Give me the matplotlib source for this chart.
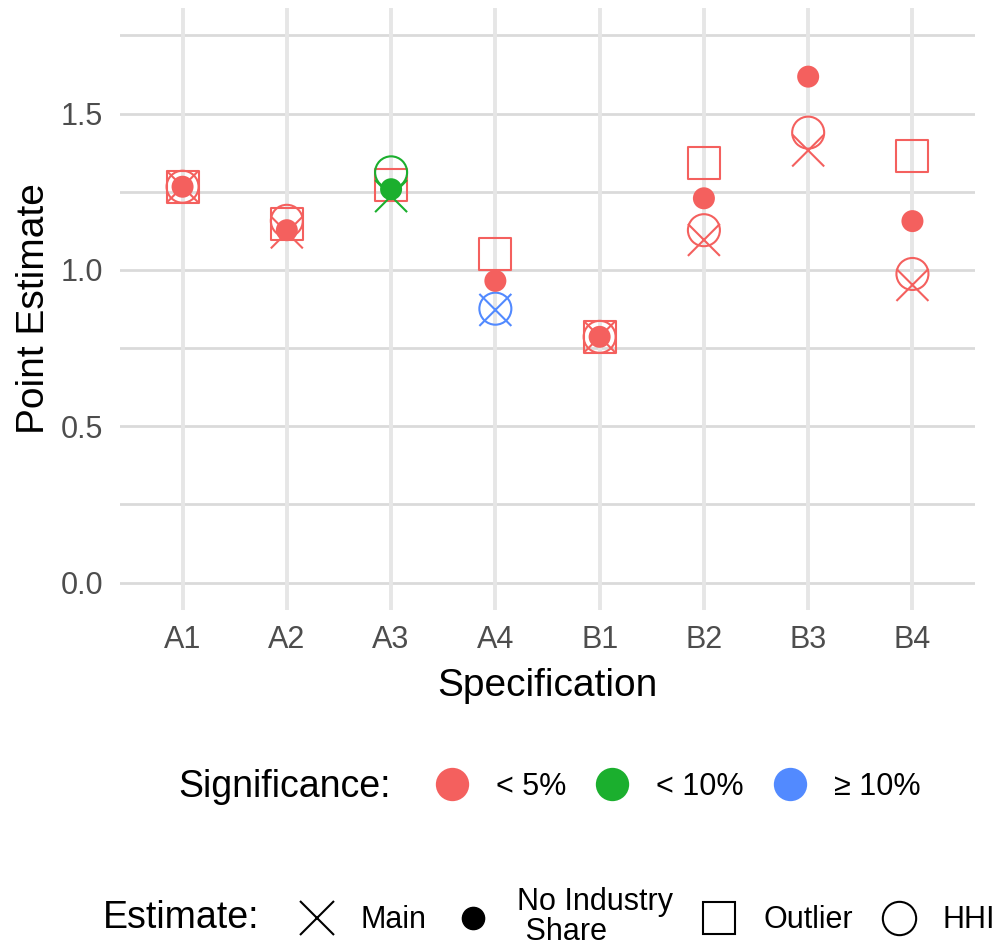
import numpy as np
import matplotlib
matplotlib.use("Agg")
import matplotlib.pyplot as plt
from matplotlib.lines import Line2D

plt.rcParams['font.family'] = ['Liberation Sans', 'DejaVu Sans']

# specifications on the x axis
specs = ['A1', 'A2', 'A3', 'A4', 'B1', 'B2', 'B3', 'B4']

# point estimates per model variant (nan = not estimated)
main_est = [1.266, 1.120, 1.236, 0.872, 0.786, 1.096, 1.382, 0.952]
noind_est = [1.266, 1.127, 1.258, 0.965, 0.786, 1.229, 1.618, 1.156]
outlier_est = [1.266, 1.146, 1.271, 1.051, 0.786, 1.342, np.nan, 1.363]
hhi_est = [1.266, 1.157, 1.312, 0.876, 0.786, 1.127, 1.439, 0.987]

# significance level of each estimate
main_sig = ['5', '5', '10', 'ns', '5', '5', '5', '5']
noind_sig = ['5', '5', '10', '5', '5', '5', '5', '5']
outlier_sig = ['5', '5', '5', '5', '5', '5', '5', '5']
hhi_sig = ['5', '5', '10', 'ns', '5', '5', '5', '5']

sig_levels = ['5', '10', 'ns']
sig_labels = ['< 5%', '< 10%', '≥ 10%']
sig_colors = {'5': '#F4605E', '10': '#1BAF2E', 'ns': '#528AFF'}

est_labels = ['Main', 'No Industry\n Share', 'Outlier', 'HHI']

W, H = 997, 949
fig = plt.figure(figsize=(W / 100, H / 100), dpi=100)
ax = fig.add_axes([120 / W, 1 - 610 / H, 855 / W, 602 / H])

x = np.arange(len(specs))

# grid in the style of a minimal theme
for yv in np.arange(0, 1.76, 0.25):
    ax.axhline(yv, color='#DADADA', lw=2.0, zorder=0)
for xv in x:
    ax.axvline(xv, color='#E6E6E6', lw=2.8, zorder=0)

ms_open = 32 * 0.72
ms_fill = 22 * 0.72
lw = 1.5

def cols(sig):
    return [sig_colors[s] for s in sig]

ax.scatter(x, outlier_est, s=ms_open ** 2, marker='s', facecolors='none',
           edgecolors=cols(outlier_sig), linewidths=lw, zorder=2)
ax.scatter(x, hhi_est, s=ms_open ** 2, marker='o', facecolors='none',
           edgecolors=cols(hhi_sig), linewidths=lw, zorder=3)
ax.scatter(x, main_est, s=ms_open ** 2, marker='x', c=cols(main_sig),
           linewidths=lw, zorder=4)
ax.scatter(x, noind_est, s=ms_fill ** 2, marker='o', c=cols(noind_sig),
           edgecolors='none', zorder=5)

ax.set_xlim(-0.6, len(specs) - 0.4)
ax.set_ylim(-0.0875, 1.8375)
ax.set_xticks(x)
ax.set_xticklabels(specs)
ax.set_yticks([0, 0.5, 1.0, 1.5])
ax.set_yticklabels(['0.0', '0.5', '1.0', '1.5'])
ax.tick_params(length=0, labelsize=22, labelcolor='#4D4D4D')
ax.tick_params(axis='y', pad=12)
ax.tick_params(axis='x', pad=11)
for sp in ax.spines.values():
    sp.set_visible(False)
ax.set_xlabel('Specification', fontsize=28, labelpad=9)
ax.set_ylabel('Point Estimate', fontsize=28, labelpad=6)

# significance legend
fig.text(178 / W, 1 - 787 / H, 'Significance:', fontsize=27, va='center', ha='left')
sig_handles = [Line2D([], [], ls='', marker='o', ms=24, mec='none',
                      mfc=sig_colors[s]) for s in sig_levels]
fig.legend(sig_handles, sig_labels, ncol=3, frameon=False, fontsize=22,
           loc='center left', bbox_to_anchor=(421 / W, 1 - 787 / H),
           borderpad=0, handlelength=1.0, handletextpad=0.95,
           columnspacing=1.0)

# estimate legend
fig.text(103 / W, 1 - 918 / H, 'Estimate:', fontsize=27, va='center', ha='left')
est_handles = [
    Line2D([], [], ls='', marker='x', ms=24, mew=lw, color='black'),
    Line2D([], [], ls='', marker='o', ms=16, color='black'),
    Line2D([], [], ls='', marker='s', ms=23, mew=lw, mfc='none', mec='black'),
    Line2D([], [], ls='', marker='o', ms=24, mew=lw, mfc='none', mec='black'),
]
leg = fig.legend(est_handles, est_labels, ncol=4, frameon=False, fontsize=22,
                 loc='center left', bbox_to_anchor=(286 / W, 1 - 917 / H),
                 borderpad=0, handlelength=1.0, handletextpad=0.95,
                 columnspacing=1.0)
for t in leg.get_texts():
    t.set_linespacing(1.0)

fig.savefig('out.png', dpi=100)
